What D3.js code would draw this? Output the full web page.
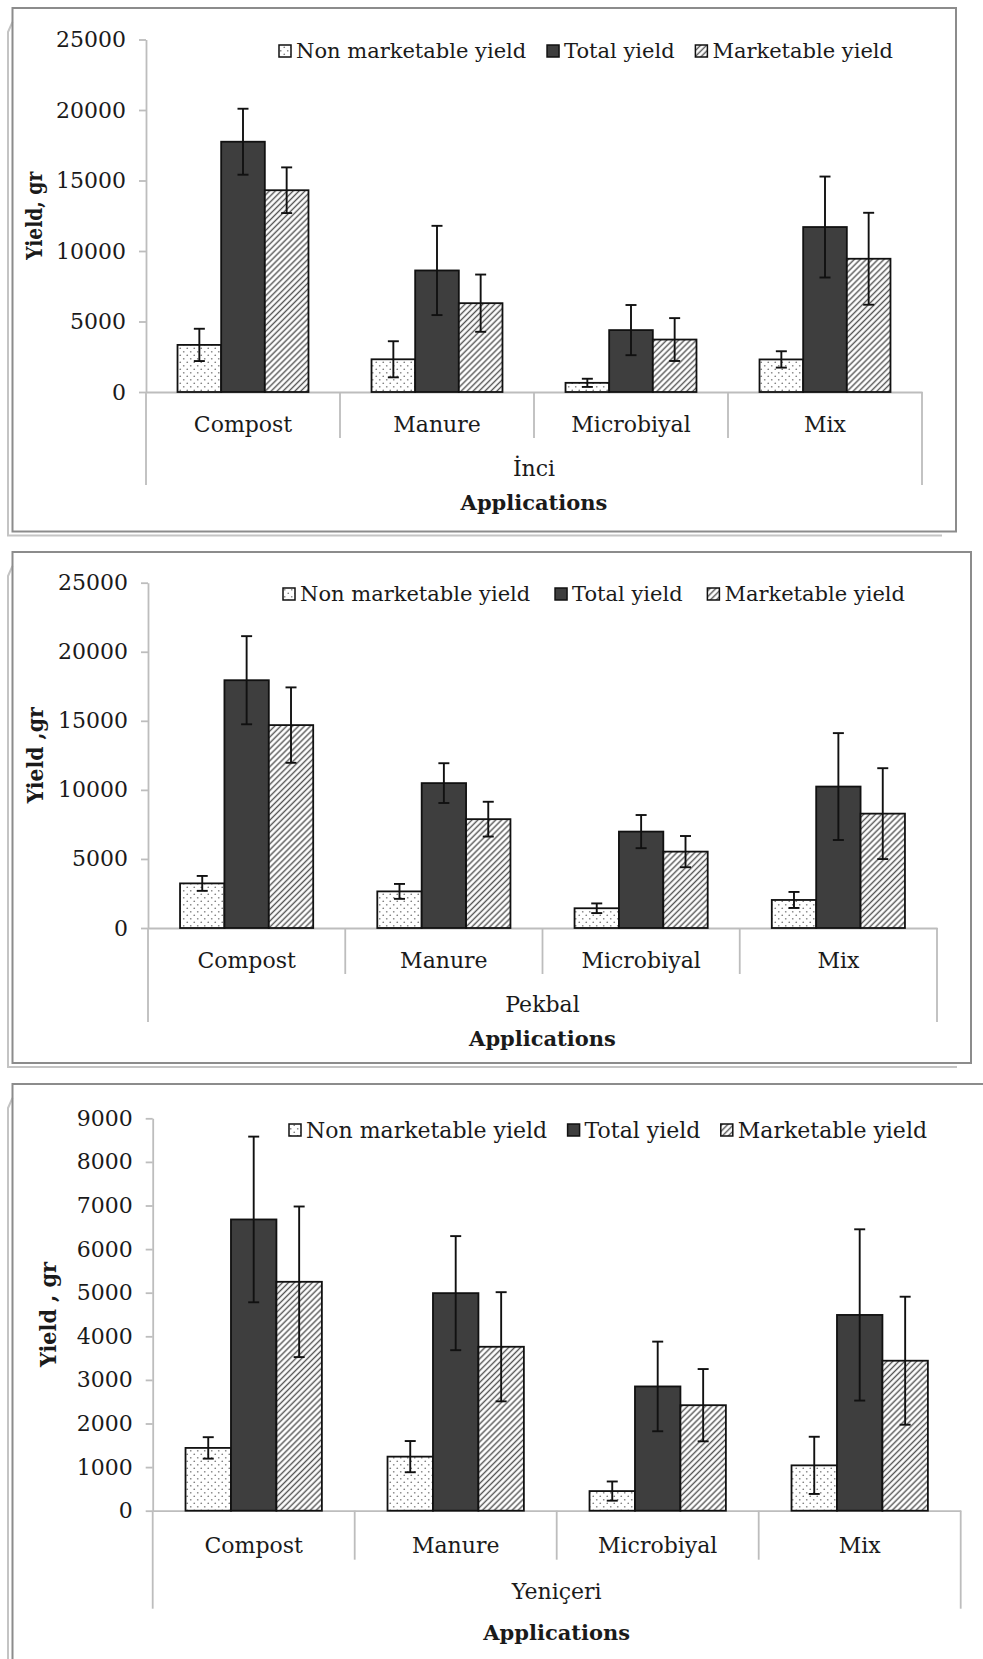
<!DOCTYPE html>
<html><head><meta charset="utf-8">
<script src="https://cdn.jsdelivr.net/npm/d3@7"></script>
<style>body{margin:0;background:#fff} svg{display:block}</style>
</head><body>
<svg id="c" width="983" height="1659"></svg>
<script>
// ---------------- DATA ----------------
const categories = ["Compost", "Manure", "Microbiyal", "Mix"];
const seriesNames = ["Non marketable yield", "Total yield", "Marketable yield"];
const ticksLarge = [0, 5000, 10000, 15000, 20000, 25000];
const ticksSmall = [0, 1000, 2000, 3000, 4000, 5000, 6000, 7000, 8000, 9000];

// İnci
const inciNonMarketable = [3340, 2320, 650, 2310];
const inciTotal = [17750, 8620, 4390, 11700];
const inciMarketable = [14310, 6300, 3720, 9450];
const inciNonMarketableErr = [1145, 1280, 290, 580];
const inciTotalErr = [2340, 3165, 1780, 3580];
const inciMarketableErr = [1620, 2030, 1520, 3260];

// Pekbal
const pekbalNonMarketable = [3230, 2650, 1430, 2030];
const pekbalTotal = [17940, 10490, 6980, 10240];
const pekbalMarketable = [14690, 7880, 5530, 8280];
const pekbalNonMarketableErr = [540, 540, 350, 580];
const pekbalTotalErr = [3190, 1440, 1200, 3870];
const pekbalMarketableErr = [2730, 1260, 1130, 3290];

// Yeniçeri
const yeniceriNonMarketable = [1440, 1240, 450, 1040];
const yeniceriTotal = [6680, 4990, 2850, 4490];
const yeniceriMarketable = [5250, 3760, 2420, 3440];
const yeniceriNonMarketableErr = [246, 358, 220, 656];
const yeniceriTotalErr = [1900, 1308, 1028, 1964];
const yeniceriMarketableErr = [1727, 1252, 829, 1468];

// ---------------- LAYOUT ----------------
const panels = [
  { cultivar: "İnci", yTitle: "Yield, gr", ticks: ticksLarge,
    values: [inciNonMarketable, inciTotal, inciMarketable],
    errors: [inciNonMarketableErr, inciTotalErr, inciMarketableErr],
    L: { fx0: 12.5, fy0: 8, fx1: 956, fy1: 531.5, left: 146, right: 922, top: 39.5, bottom: 392,
         yTitleX: 34, yTitleLen: 88, legY: 51, legX0: 279, legX1: 893, legFont: 21,
         catDy: 40, subDy: 84, appDy: 118, sepDy: 46, outerDy: 93 } },
  { cultivar: "Pekbal", yTitle: "Yield ,gr", ticks: ticksLarge,
    values: [pekbalNonMarketable, pekbalTotal, pekbalMarketable],
    errors: [pekbalNonMarketableErr, pekbalTotalErr, pekbalMarketableErr],
    L: { fx0: 12.5, fy0: 552, fx1: 971, fy1: 1063, left: 148, right: 937, top: 582.7, bottom: 928,
         yTitleX: 35, yTitleLen: 96, legY: 594, legX0: 283, legX1: 905, legFont: 21,
         catDy: 40, subDy: 84, appDy: 118, sepDy: 46, outerDy: 94 } },
  { cultivar: "Yeniçeri", yTitle: "Yield , gr", ticks: ticksSmall,
    values: [yeniceriNonMarketable, yeniceriTotal, yeniceriMarketable],
    errors: [yeniceriNonMarketableErr, yeniceriTotalErr, yeniceriMarketableErr],
    L: { fx0: 12.5, fy0: 1084, fx1: 1000, fy1: 1700, left: 152.7, right: 960.7, top: 1118.3, bottom: 1510.7,
         yTitleX: 48, yTitleLen: 105, legY: 1130, legX0: 289, legX1: 927, legFont: 22,
         catDy: 42, subDy: 88, appDy: 129, sepDy: 49, outerDy: 98 } }
];

const FONT = "'DejaVu Serif', 'Liberation Serif', serif";
const fills = ["url(#dots)", "#3e3e3e", "url(#hatch)"];

const svg = d3.select("#c");
const defs = svg.append("defs");
const dots = defs.append("pattern").attr("id", "dots").attr("patternUnits", "userSpaceOnUse")
  .attr("width", 7).attr("height", 7);
dots.append("rect").attr("width", 7).attr("height", 7).attr("fill", "#fff");
dots.append("circle").attr("cx", 1.75).attr("cy", 1.75).attr("r", 0.85).attr("fill", "#808080");
dots.append("circle").attr("cx", 5.25).attr("cy", 5.25).attr("r", 0.85).attr("fill", "#808080");
const hatch = defs.append("pattern").attr("id", "hatch").attr("patternUnits", "userSpaceOnUse")
  .attr("width", 4.2).attr("height", 4.2).attr("patternTransform", "rotate(45)");
hatch.append("rect").attr("width", 4.2).attr("height", 4.2).attr("fill", "#fff");
hatch.append("line").attr("x1", 2.1).attr("y1", 0).attr("x2", 2.1).attr("y2", 4.2)
  .attr("stroke", "#555").attr("stroke-width", 1.4);

panels.forEach(p => {
  const L = p.L;
  const g = svg.append("g");

  // frame with shadow
  g.append("path")
    .attr("d", `M${L.fx0},${L.fy0 + 14} L${L.fx0 - 4.5},${L.fy0 + 24} L${L.fx0 - 4.5},${L.fy1 + 4} L${L.fx1 - 14},${L.fy1 + 4}`)
    .attr("fill", "none").attr("stroke", "#c4c4c4").attr("stroke-width", 2);
  g.append("rect").attr("x", L.fx0).attr("y", L.fy0)
    .attr("width", L.fx1 - L.fx0).attr("height", L.fy1 - L.fy0)
    .attr("fill", "none").attr("stroke", "#8c8c8c").attr("stroke-width", 2);

  const yMax = d3.max(p.ticks);
  const y = d3.scaleLinear().domain([0, yMax]).range([L.bottom, L.top]);
  const x0 = d3.scaleBand().domain(categories).range([L.left, L.right]).paddingInner(0).paddingOuter(0);
  const x1 = d3.scaleBand().domain(seriesNames).range([0, x0.bandwidth()]).paddingInner(0).paddingOuter(0.722);

  // y axis
  const ya = g.append("g").attr("transform", `translate(${L.left},0)`)
    .call(d3.axisLeft(y).tickValues(p.ticks).tickFormat(d3.format("d")).tickSize(7).tickSizeOuter(0).tickPadding(13));
  ya.select(".domain").attr("stroke", "#bdbdbd").attr("stroke-width", 1.8);
  ya.selectAll(".tick line").attr("stroke", "#bdbdbd").attr("stroke-width", 1.8);
  ya.selectAll(".tick text").attr("font-family", FONT).attr("font-size", 22).attr("fill", "#1a1a1a");

  // x axis (labels at band centers)
  const xa = g.append("g").attr("transform", `translate(0,${L.bottom})`)
    .call(d3.axisBottom(x0).tickSize(0).tickSizeOuter(0).tickPadding(0));
  xa.select(".domain").attr("stroke", "#bdbdbd").attr("stroke-width", 1.8);
  xa.selectAll(".tick text").attr("font-family", FONT).attr("font-size", 22).attr("fill", "#1a1a1a")
    .attr("dy", null).attr("y", L.catDy);

  // separators
  categories.slice(1).forEach(c => {
    g.append("line").attr("x1", x0(c)).attr("x2", x0(c)).attr("y1", L.bottom).attr("y2", L.bottom + L.sepDy)
      .attr("stroke", "#bdbdbd").attr("stroke-width", 1.8);
  });
  [L.left, L.right].forEach(xx => {
    g.append("line").attr("x1", xx).attr("x2", xx).attr("y1", L.bottom).attr("y2", L.bottom + L.outerDy)
      .attr("stroke", "#bdbdbd").attr("stroke-width", 1.8);
  });

  const cx = (L.left + L.right) / 2;
  g.append("text").attr("x", cx).attr("y", L.bottom + L.subDy).attr("text-anchor", "middle")
    .attr("font-family", FONT).attr("font-size", 22).attr("fill", "#1a1a1a").text(p.cultivar);
  g.append("text").attr("x", cx).attr("y", L.bottom + L.appDy).attr("text-anchor", "middle")
    .attr("font-family", FONT).attr("font-size", 21).attr("font-weight", "bold").attr("fill", "#1a1a1a").text("Applications");

  // y title
  const ymid = (L.top + L.bottom) / 2;
  g.append("text").attr("transform", `translate(${L.yTitleX},${ymid}) rotate(-90)`)
    .attr("text-anchor", "middle").attr("dy", "0.35em")
    .attr("font-family", FONT).attr("font-size", 22).attr("font-weight", "bold").attr("fill", "#1a1a1a")
    .attr("textLength", L.yTitleLen).attr("lengthAdjust", "spacingAndGlyphs")
    .text(p.yTitle);

  // bars
  seriesNames.forEach((s, si) => {
    g.append("g").selectAll("rect").data(categories).join("rect")
      .attr("x", c => x0(c) + x1(s))
      .attr("width", x1.bandwidth())
      .attr("y", (c, ci) => y(p.values[si][ci]))
      .attr("height", (c, ci) => L.bottom - y(p.values[si][ci]))
      .attr("fill", fills[si]).attr("stroke", "#111").attr("stroke-width", 1.8);
  });
  // error bars
  seriesNames.forEach((s, si) => {
    const eg = g.append("g").attr("stroke", "#111").attr("stroke-width", 1.9);
    categories.forEach((c, ci) => {
      const xc = x0(c) + x1(s) + x1.bandwidth() / 2;
      const v = p.values[si][ci], e = p.errors[si][ci];
      eg.append("line").attr("x1", xc).attr("x2", xc).attr("y1", y(v - e)).attr("y2", y(v + e));
      eg.append("line").attr("x1", xc - 5.5).attr("x2", xc + 5.5).attr("y1", y(v - e)).attr("y2", y(v - e));
      eg.append("line").attr("x1", xc - 5.5).attr("x2", xc + 5.5).attr("y1", y(v + e)).attr("y2", y(v + e));
    });
  });

  // legend
  const lg = g.append("g");
  const sq = 12, gapST = 5;
  const items = seriesNames.map((s, si) => {
    const it = lg.append("g");
    it.append("rect").attr("width", sq).attr("height", sq).attr("y", L.legY - sq / 2)
      .attr("fill", fills[si]).attr("stroke", "#111").attr("stroke-width", 1.5);
    const t = it.append("text").attr("x", sq + gapST).attr("y", L.legY).attr("dy", "0.35em")
      .attr("font-family", FONT).attr("font-size", L.legFont).attr("fill", "#1a1a1a").text(s);
    return { it, w: sq + gapST + t.node().getComputedTextLength() };
  });
  const total = d3.sum(items, d => d.w);
  const gap = (L.legX1 - L.legX0 - total) / 2;
  let xx = L.legX0;
  items.forEach(d => { d.it.attr("transform", `translate(${xx},0)`); xx += d.w + gap; });
});
</script>
</body></html>
